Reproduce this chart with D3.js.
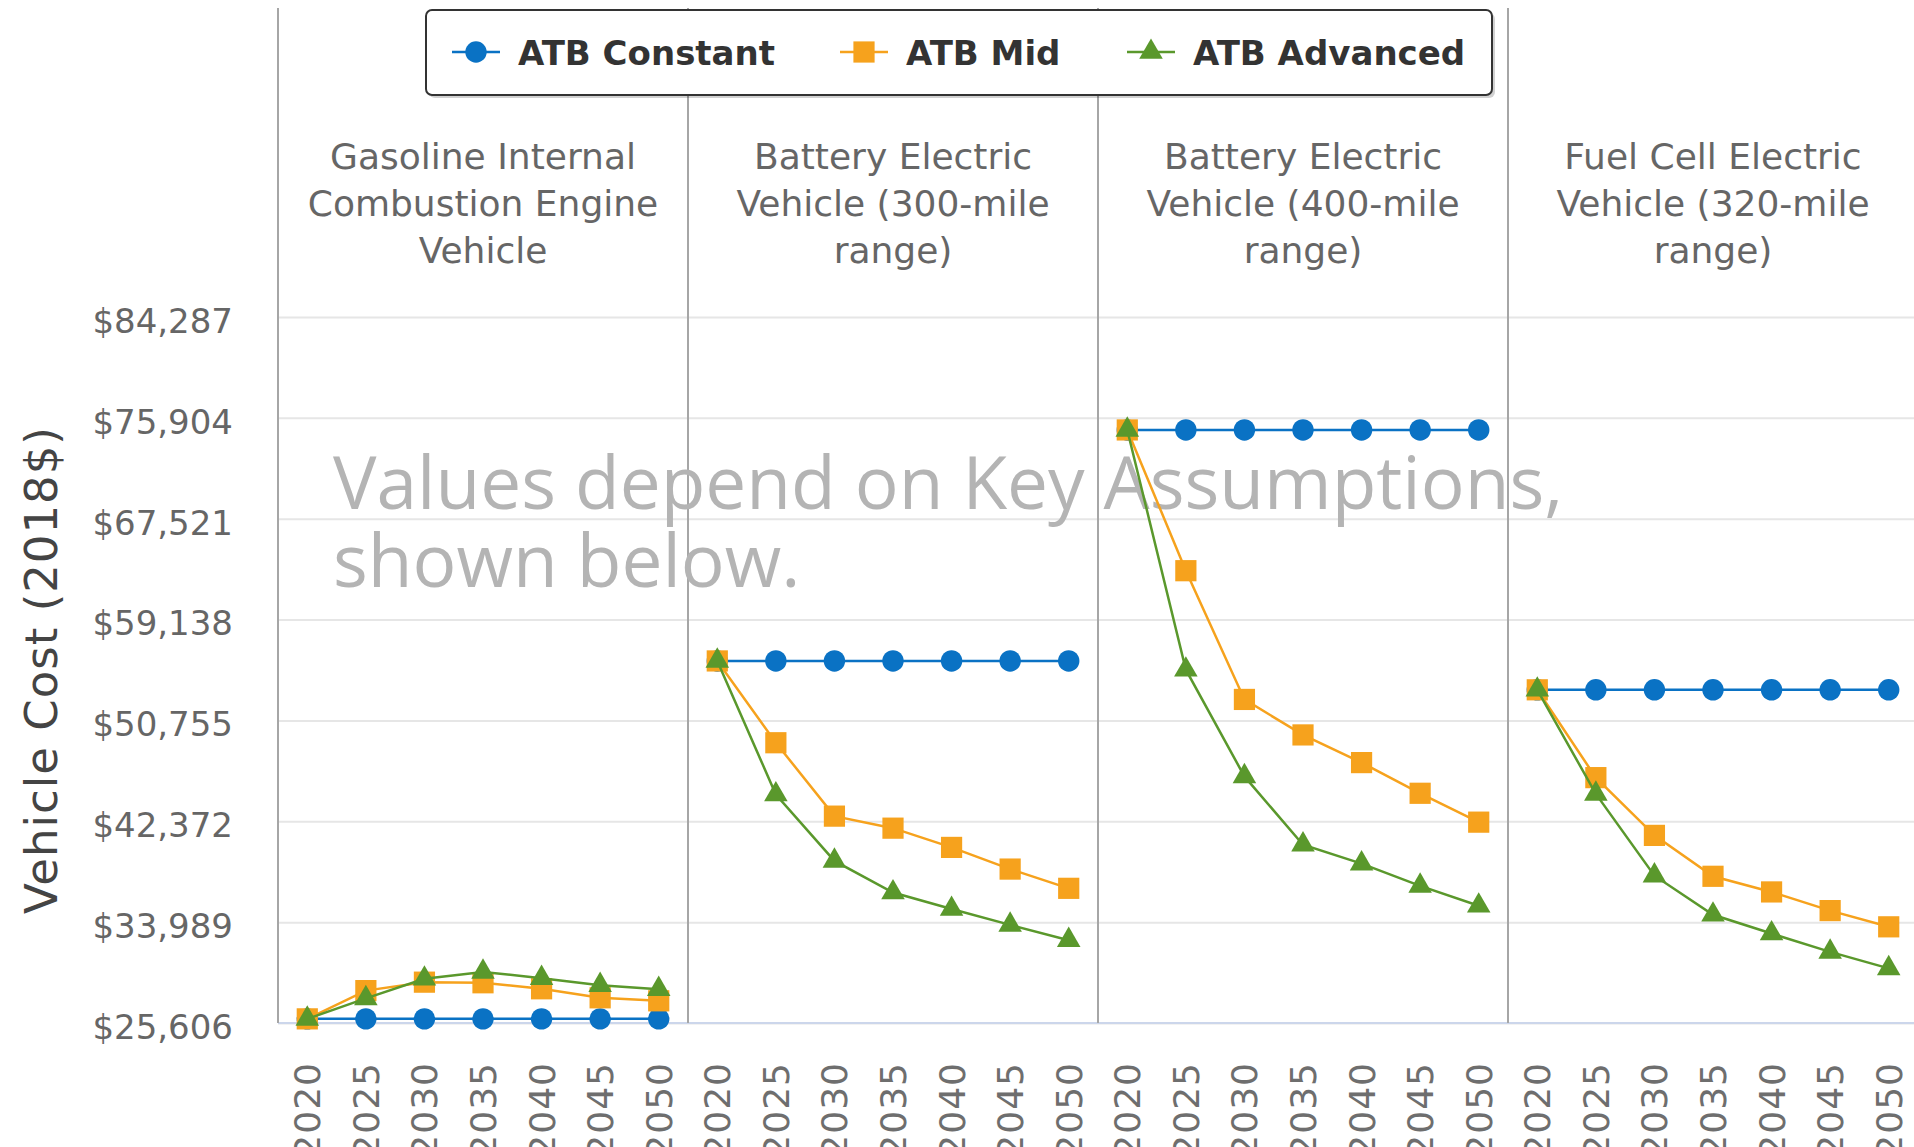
<!DOCTYPE html>
<html>
<head>
<meta charset="utf-8">
<script src="https://cdn.jsdelivr.net/npm/d3@7"></script>
<style>
  body { margin: 0; background: #fff; }
  svg { display: block; }
</style>
</head>
<body>
<svg id="chart" width="1914" height="1147"></svg>
<script>
// data
var years = [2020, 2025, 2030, 2035, 2040, 2045, 2050];
var groupTitles = [
    ["Gasoline Internal", "Combustion Engine", "Vehicle"],
    ["Battery Electric", "Vehicle (300-mile", "range)"],
    ["Battery Electric", "Vehicle (400-mile", "range)"],
    ["Fuel Cell Electric", "Vehicle (320-mile", "range)"]
];
var yTicks = [25606, 33989, 42372, 50755, 59138, 67521, 75904, 84287];

var atbConstant = [
    [25950, 25950, 25950, 25950, 25950, 25950, 25950],
    [55700, 55700, 55700, 55700, 55700, 55700, 55700],
    [74900, 74900, 74900, 74900, 74900, 74900, 74900],
    [53300, 53300, 53300, 53300, 53300, 53300, 53300]
];
var atbMid = [
    [25950, 28300, 29000, 28950, 28450, 27700, 27450],
    [55700, 48900, 42800, 41800, 40200, 38400, 36800],
    [74900, 63200, 52500, 49550, 47250, 44700, 42300],
    [53300, 46000, 41200, 37800, 36500, 34950, 33600]
];
var atbAdvanced = [
    [25950, 27650, 29280, 29850, 29330, 28750, 28420],
    [55700, 44600, 39080, 36450, 35080, 33760, 32490],
    [74900, 54970, 46100, 40425, 38850, 37000, 35350],
    [53300, 44650, 37850, 34600, 33040, 31520, 30150]
];

var seriesNames = ["ATB Constant", "ATB Mid", "ATB Advanced"];
var seriesColors = ["#0a72c4", "#f6a21d", "#5a982c"];

function draw() {
    var svg = d3.select("#chart");

    var plotLeft = 278, plotRight = 1918, plotTop = 317, plotBottom = 1023;

    var keys = [];
    groupTitles.forEach(function (g, gi) {
        years.forEach(function (yr) { keys.push(gi + "-" + yr); });
    });

    var x = d3.scaleBand().domain(keys).range([plotLeft, plotRight]);
    var y = d3.scaleLinear().domain([25606, 84287]).range([plotBottom, plotTop]);

    // grid lines
    var grid = svg.append("g")
        .attr("transform", "translate(" + plotLeft + ",0)")
        .call(d3.axisLeft(y).tickValues(yTicks).tickSize(-(plotRight - plotLeft)).tickFormat(""));
    grid.select(".domain").remove();
    grid.selectAll("line").attr("stroke", "#e6e6e6").attr("stroke-width", 2);

    // y labels
    var yAxis = svg.append("g")
        .attr("transform", "translate(" + plotLeft + ",0)")
        .call(d3.axisLeft(y).tickValues(yTicks).tickSize(0).tickPadding(45).tickFormat(d3.format("$,.0f")));
    yAxis.select(".domain").remove();
    yAxis.selectAll("text")
        .attr("font-family", "DejaVu Sans")
        .attr("font-size", 34)
        .attr("fill", "#666")
        .attr("dy", "0.45em");

    // bottom axis line
    svg.append("line")
        .attr("x1", plotLeft).attr("x2", plotRight)
        .attr("y1", plotBottom).attr("y2", plotBottom)
        .attr("stroke", "#ccd6eb").attr("stroke-width", 2);

    // group separators
    groupTitles.forEach(function (g, gi) {
        var sx = x(gi + "-" + years[0]);
        svg.append("line")
            .attr("x1", sx).attr("x2", sx)
            .attr("y1", 8).attr("y2", plotBottom)
            .attr("stroke", "#a6a6a6").attr("stroke-width", 2);
    });

    // x labels
    var xAxis = svg.append("g")
        .attr("transform", "translate(0," + plotBottom + ")")
        .call(d3.axisBottom(x).tickSize(0).tickFormat(function (k) { return k.split("-")[1]; }));
    xAxis.select(".domain").remove();
    xAxis.selectAll("text")
        .attr("font-family", "DejaVu Sans")
        .attr("font-size", 36)
        .attr("letter-spacing", 1)
        .attr("fill", "#6e6e6e")
        .attr("text-anchor", "end")
        .attr("transform", "rotate(-90)")
        .attr("x", -39)
        .attr("y", 0)
        .attr("dy", "0.36em");

    // group titles
    groupTitles.forEach(function (lines, gi) {
        var cx = x(gi + "-" + years[0]) + x.bandwidth() * years.length / 2;
        svg.append("text")
            .attr("font-family", "DejaVu Sans")
            .attr("font-size", 36)
            .attr("fill", "#666")
            .attr("text-anchor", "middle")
            .selectAll("tspan")
            .data(lines)
            .enter()
            .append("tspan")
            .attr("x", cx)
            .attr("y", function (d, i) { return 169 + i * 47; })
            .text(function (d) { return d; });
    });

    // y title
    svg.append("text")
        .attr("transform", "translate(57," + ((plotTop + plotBottom) / 2) + ") rotate(-90)")
        .attr("text-anchor", "middle")
        .attr("font-family", "DejaVu Sans")
        .attr("font-size", 45)
        .attr("letter-spacing", 1)
        .attr("fill", "#444")
        .text("Vehicle Cost (2018$)");

    // watermark
    svg.append("text")
        .attr("font-family", "Open Sans")
        .attr("font-size", 73)
        .attr("fill", "#b4b4b4")
        .selectAll("tspan")
        .data(["Values depend on Key Assumptions,", "shown below."])
        .enter()
        .append("tspan")
        .attr("x", 333)
        .attr("y", function (d, i) { return 509 + i * 78; })
        .text(function (d) { return d; });

    // series
    var symbols = [
        d3.symbol().type(d3.symbolCircle).size(360),
        d3.symbol().type(d3.symbolSquare).size(450),
        d3.symbol().type(d3.symbolTriangle).size(240)
    ];
    var line = d3.line()
        .x(function (d) { return x(d.key) + x.bandwidth() / 2; })
        .y(function (d) { return y(d.value); });

    [atbConstant, atbMid, atbAdvanced].forEach(function (series, si) {
        var g = svg.append("g");
        series.forEach(function (vals, gi) {
            var pts = vals.map(function (v, i) { return { key: gi + "-" + years[i], value: v }; });
            g.append("path")
                .datum(pts)
                .attr("d", line)
                .attr("fill", "none")
                .attr("stroke", seriesColors[si])
                .attr("stroke-width", 2.5);
            g.selectAll(null)
                .data(pts)
                .enter()
                .append("path")
                .attr("d", symbols[si])
                .attr("fill", seriesColors[si])
                .attr("transform", function (d) {
                    return "translate(" + (x(d.key) + x.bandwidth() / 2) + "," + y(d.value) + ")";
                });
        });
    });

    // legend
    var legend = svg.append("g");
    legend.append("rect")
        .attr("x", 429).attr("y", 13).attr("width", 1066).attr("height", 85)
        .attr("rx", 6).attr("fill", "#000").attr("opacity", 0.18);
    legend.append("rect")
        .attr("x", 426).attr("y", 10).attr("width", 1066).attr("height", 85)
        .attr("rx", 6).attr("fill", "#fff").attr("stroke", "#333").attr("stroke-width", 2);

    var legendX = [452, 840, 1127];
    seriesNames.forEach(function (name, si) {
        var item = legend.append("g").attr("transform", "translate(" + legendX[si] + ",52)");
        item.append("line")
            .attr("x1", 0).attr("x2", 48)
            .attr("stroke", seriesColors[si]).attr("stroke-width", 2.5);
        item.append("path")
            .attr("d", symbols[si])
            .attr("fill", seriesColors[si])
            .attr("transform", "translate(24,0)");
        item.append("text")
            .attr("x", 66)
            .attr("y", 13)
            .attr("font-family", "DejaVu Sans")
            .attr("font-weight", "bold")
            .attr("font-size", 34)
            .attr("fill", "#333")
            .text(name);
    });
}

draw();
</script>
</body>
</html>
